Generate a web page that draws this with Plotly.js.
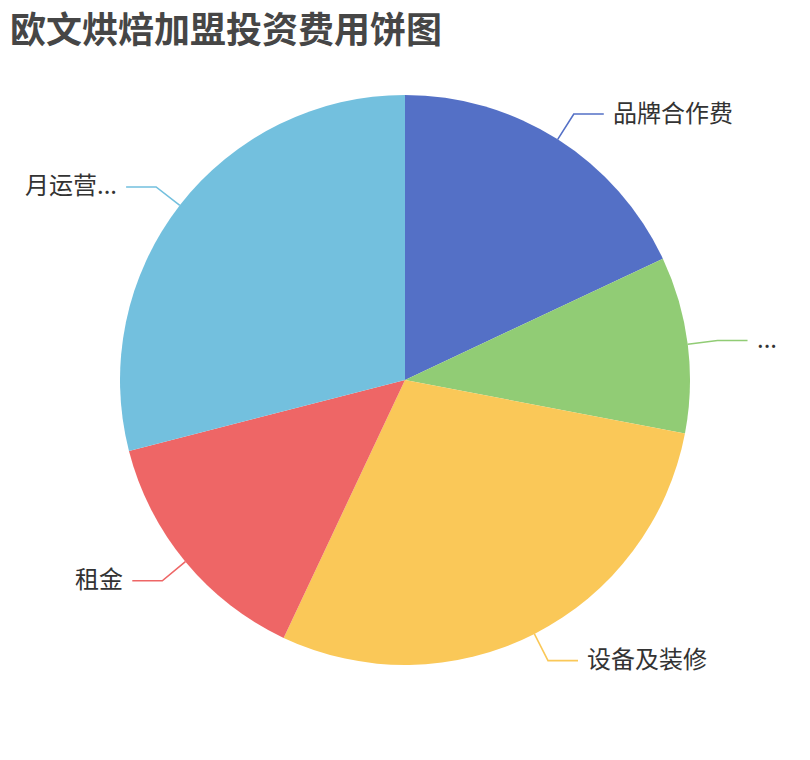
<!DOCTYPE html>
<html>
<head>
<meta charset="utf-8">
<script src="https://cdn.plot.ly/plotly-3.0.1.min.js"></script>
<style>
    body { margin: 0; background: #fff; }
    #chart { width: 810px; height: 760px; }
</style>
</head>
<body>
<div id="chart"></div>
<script>
var labels = ["品牌合作费", "...", "设备及装修", "租金", "月运营..."];
var values = [18, 10, 29, 14, 29];
var colors = ["#5470c6", "#91cc75", "#fac858", "#ee6666", "#73c0de"];

var W = 810, H = 760;
var cx = 405, cy = 380, R = 285;
var len1 = 30, len2 = 30, gap = 7;
var font = "'Noto Sans CJK SC', 'Noto Sans', sans-serif";

// pixel -> paper
function px(x) { return x / W; }
function py(y) { return 1 - y / H; }

var total = values.reduce(function (a, b) { return a + b; }, 0);
var shapes = [];
var annotations = [];
var acc = 0;

for (var i = 0; i < values.length; i++) {
    var mid = (acc + values[i] / 2) / total * 2 * Math.PI;
    acc += values[i];
    var s = Math.sin(mid), c = Math.cos(mid);
    var x0 = cx + R * s, y0 = cy - R * c;
    var x1 = cx + (R + len1) * s, y1 = cy - (R + len1) * c;
    var right = s >= 0;
    var x2 = right ? x1 + len2 : x1 - len2;
    shapes.push({
        type: "path",
        xref: "paper", yref: "paper",
        path: "M " + px(x0) + " " + py(y0) + " L " + px(x1) + " " + py(y1) + " L " + px(x2) + " " + py(y1),
        line: { color: colors[i], width: 1.6 }
    });
    annotations.push({
        xref: "paper", yref: "paper",
        x: px(right ? x2 + gap : x2 - gap),
        y: py(y1 - 3),
        xanchor: right ? "left" : "right",
        yanchor: "middle",
        text: labels[i],
        showarrow: false,
        font: { family: font, size: 24, color: "#333" }
    });
}

// title as an annotation so it is not clipped at the top
annotations.push({
    xref: "paper", yref: "paper",
    x: px(8), xanchor: "left",
    y: py(27), yanchor: "middle",
    text: "<b>欧文烘焙加盟投资费用饼图</b>",
    showarrow: false,
    font: { family: font, size: 36, color: "#464646" }
});

var trace = {
    type: "pie",
    labels: labels,
    values: values,
    sort: false,
    direction: "clockwise",
    rotation: 0,
    textinfo: "none",
    marker: { colors: colors, line: { width: 0 } },
    domain: {
        x: [px(cx - R), px(cx + R)],
        y: [py(cy + R), py(cy - R)]
    },
    hoverinfo: "label+value+percent"
};

var layout = {
    width: W,
    height: H,
    margin: { l: 0, r: 0, t: 0, b: 0 },
    showlegend: false,
    paper_bgcolor: "#fff",
    shapes: shapes,
    annotations: annotations
};

Plotly.newPlot("chart", [trace], layout, { displayModeBar: false });
</script>
</body>
</html>
